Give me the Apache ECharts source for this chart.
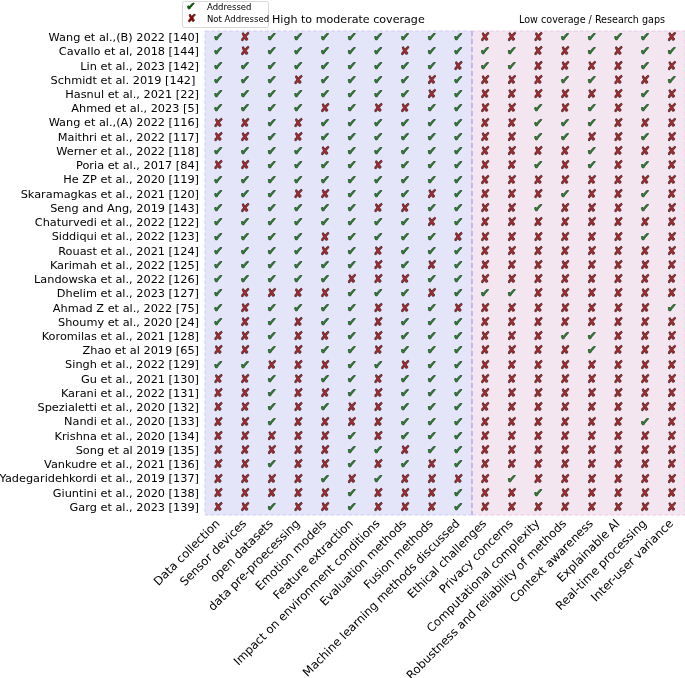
<!DOCTYPE html>
<html>
<head>
<meta charset="utf-8">
<script src="https://cdn.jsdelivr.net/npm/echarts@6/dist/echarts.min.js"></script>
<style>html,body{margin:0;padding:0;background:#fff}#c{width:685px;height:678px}</style>
</head>
<body>
<div id="c"></div>
<script>
const criteria = ["Data collection","Sensor devices","open datasets","data pre-proecessing","Emotion models","Feature extraction","Impact on environment conditions","Evaluation methods","Fusion methods","Machine learning methods discussed","Ethical challenges","Privacy concerns","Computational complexity","Robustness and reliability of methods","Context awareness","Explainable AI","Real-time processing","Inter-user variance"];
const studies = ["Wang et al.,(B) 2022 [140]","Cavallo et al, 2018 [144]","Lin et al., 2023 [142]","Schmidt et al. 2019 [142] ","Hasnul et al., 2021 [22]","Ahmed et al., 2023 [5]","Wang et al.,(A) 2022 [116]","Maithri et al., 2022 [117]","Werner et al., 2022 [118]","Poria et al., 2017 [84]","He ZP et al., 2020 [119]","Skaramagkas et al., 2021 [120]","Seng and Ang, 2019 [143]","Chaturvedi et al., 2022 [122]","Siddiqui et al., 2022 [123]","Rouast et al., 2021 [124]","Karimah et al., 2022 [125]","Landowska et al., 2022 [126]","Dhelim et al., 2023 [127]","Ahmad Z et al., 2022 [75]","Shoumy et al., 2020 [24]","Koromilas et al., 2021 [128]","Zhao et al 2019 [65]","Singh et al., 2022 [129]","Gu et al., 2021 [130]","Karani et al., 2022 [131]","Spezialetti et al., 2020 [132]","Nandi et al., 2020 [133]","Krishna et al., 2020 [134]","Song et al 2019 [135]","Vankudre et al., 2021 [136]","Yadegaridehkordi et al., 2019 [137]","Giuntini et al., 2020 [138]","Garg et al., 2023 [139]"];
// 1 = addressed, 0 = not addressed (one row per study, one column per criterion)
const coverage = [
[1,0,1,1,1,1,1,1,1,1, 0,0,0,1,1,1,1,0],
[1,0,1,1,1,1,1,0,1,1, 1,1,0,0,1,0,1,1],
[1,1,1,1,1,1,1,1,1,0, 1,1,0,0,0,0,1,0],
[1,1,1,0,1,1,1,1,0,1, 0,0,0,1,1,0,0,1],
[1,1,1,1,1,1,1,1,0,1, 0,0,0,0,0,0,1,0],
[1,1,1,1,0,1,0,0,1,1, 0,0,1,0,1,0,1,0],
[0,0,1,0,1,1,1,1,1,1, 0,0,1,1,1,0,0,0],
[0,0,1,0,1,1,1,1,1,1, 0,0,1,1,0,0,1,0],
[1,1,1,1,0,1,1,1,1,1, 0,0,0,0,1,0,0,0],
[0,0,1,1,1,1,0,1,1,1, 0,0,1,0,1,0,1,0],
[1,1,1,1,1,1,1,1,1,1, 0,0,0,0,0,0,0,0],
[1,1,1,0,0,1,1,1,0,1, 0,0,0,1,0,0,1,0],
[1,0,1,1,1,1,0,0,1,1, 0,0,1,0,0,0,1,0],
[1,1,1,1,1,1,1,1,0,1, 0,0,0,0,0,0,0,0],
[1,1,1,1,0,1,1,1,1,0, 0,0,0,0,0,0,1,0],
[1,1,1,1,0,1,0,1,1,1, 0,0,0,0,0,0,0,0],
[1,1,1,1,1,1,0,1,0,1, 0,0,0,0,0,0,0,0],
[1,1,1,1,1,0,0,0,1,1, 0,0,0,0,0,0,0,0],
[1,0,0,0,0,1,1,1,0,1, 1,1,0,0,0,0,0,0],
[1,0,1,1,1,1,0,0,1,0, 0,0,0,0,0,0,0,1],
[1,0,1,0,1,1,0,1,1,1, 0,0,0,0,0,0,0,0],
[0,0,1,0,0,1,0,1,1,1, 0,0,0,1,1,0,0,0],
[0,0,1,0,1,1,0,1,1,1, 0,0,0,0,1,0,0,0],
[1,1,0,0,0,1,1,0,1,1, 0,0,0,0,0,0,0,0],
[0,0,1,0,1,1,0,1,1,1, 0,0,0,0,0,0,0,0],
[0,0,1,0,0,1,0,1,1,1, 0,0,0,0,0,0,0,0],
[0,0,1,0,1,0,0,1,1,1, 0,0,0,0,0,0,0,0],
[0,0,1,0,0,0,0,1,1,1, 0,0,0,0,0,0,1,0],
[0,0,0,0,0,1,0,1,1,1, 0,0,0,0,0,0,0,0],
[0,0,0,0,0,1,1,0,1,1, 0,0,0,0,0,0,0,0],
[0,0,1,0,0,1,0,1,0,1, 0,0,0,0,0,0,0,0],
[0,0,0,0,1,0,1,0,0,0, 0,1,0,0,0,0,0,0],
[0,0,0,0,0,1,0,0,0,1, 0,0,1,0,0,0,0,0],
[0,0,1,0,0,1,0,0,0,1, 0,0,0,0,0,0,0,0]
];
const highCoverageCount = 10; // first 10 criteria = high to moderate coverage

const addressedPts = [], notPts = [];
coverage.forEach((row, r) => row.forEach((v, c) => {
  (v ? addressedPts : notPts).push([c, r]);
}));

const FONT = 'DejaVu Sans';
const chart = echarts.init(document.getElementById('c'), null, {renderer: 'canvas'});
const markLabel = (glyph, fill) => ({
  show: true, position: 'inside', formatter: glyph,
  fontFamily: FONT, fontSize: 12, color: fill,
  textBorderColor: '#000', textBorderWidth: 0.6
});
chart.setOption({
  animation: false,
  backgroundColor: '#fff',
  grid: {left: 205, right: 0, top: 31, bottom: 163, containLabel: false, outerBoundsMode: 'none'},
  title: [
    {text: 'High to moderate coverage', left: 267, top: 10,
     textStyle: {fontFamily: FONT, fontSize: 11.1, fontWeight: 'normal', color: '#000'}},
    {text: 'Low coverage / Research gaps', right: 15, top: 10,
     textStyle: {fontFamily: FONT, fontSize: 9.6, fontWeight: 'normal', color: '#000'}}
  ],
  xAxis: [
    {type: 'category', data: criteria, position: 'bottom',
     axisLine: {show: false}, axisTick: {show: true, alignWithLabel: true, length: 3.5, lineStyle: {color: '#000', width: 0.8}},
     axisLabel: {interval: 0, rotate: 45, margin: 7, fontFamily: FONT, fontSize: 11.7, color: '#000'},
     splitLine: {show: false}},
    {type: 'value', min: -0.5, max: 17.5, show: false}
  ],
  yAxis: [
    {type: 'category', data: studies, inverse: true,
     axisLine: {show: false}, axisTick: {show: true, alignWithLabel: true, length: 3.5, lineStyle: {color: '#000', width: 0.8}},
     axisLabel: {interval: 0, margin: 6, fontFamily: FONT, fontSize: 11.3, color: '#000'},
     splitLine: {show: false}},
    {type: 'value', min: -0.5, max: 33.5, inverse: true, show: false}
  ],
  graphic: [
    {type: 'rect', left: 182, top: 1, shape: {width: 86, height: 26, r: 2},
     style: {fill: '#fff', stroke: '#d8d8d8', lineWidth: 1}, z: 10},
    {type: 'text', left: 186, top: 1, z: 11,
     style: {text: '✔', fontFamily: FONT, fontSize: 11, fill: '#006400', stroke: '#000', lineWidth: 0.5}},
    {type: 'text', left: 187, top: 13, z: 11,
     style: {text: '✘', fontFamily: FONT, fontSize: 11, fill: '#8b0000', stroke: '#000', lineWidth: 0.5}},
    {type: 'text', left: 207, top: 3, z: 11,
     style: {text: 'Addressed', fontFamily: FONT, fontSize: 8.5, fill: '#000'}},
    {type: 'text', left: 207, top: 15, z: 11,
     style: {text: 'Not Addressed', fontFamily: FONT, fontSize: 8.5, fill: '#000'}}
  ],
  series: [
    {type: 'scatter', name: 'regions', xAxisIndex: 1, yAxisIndex: 1, z: 0,
     data: [], silent: true,
     markArea: {silent: true, data: [
       [{xAxis: -0.5, yAxis: -0.5, itemStyle: {color: '#e5e5fa', borderColor: '#cfcff2', borderWidth: 1, borderType: 'dashed'}},
        {xAxis: highCoverageCount - 0.5, yAxis: 33.5}],
       [{xAxis: highCoverageCount - 0.5, yAxis: -0.5, itemStyle: {color: '#f3e6f1', borderColor: '#ecc8e4', borderWidth: 1, borderType: 'dashed'}},
        {xAxis: 17.5, yAxis: 33.5}]
     ]},
     markLine: {silent: true, symbol: 'none', label: {show: false},
       lineStyle: {color: '#b9aaea', type: [5, 3], width: 1.5},
       data: [{xAxis: highCoverageCount - 0.5}]}
    },
    {type: 'scatter', name: 'Addressed', xAxisIndex: 0, yAxisIndex: 0, z: 3,
     data: addressedPts, symbolSize: 0.1, itemStyle: {color: 'rgba(0,0,0,0)'},
     label: markLabel('✔', '#006400')},
    {type: 'scatter', name: 'Not Addressed', xAxisIndex: 0, yAxisIndex: 0, z: 3,
     data: notPts, symbolSize: 0.1, itemStyle: {color: 'rgba(0,0,0,0)'},
     label: markLabel('✘', '#8b0000')}
  ]
});
</script>
</body>
</html>
